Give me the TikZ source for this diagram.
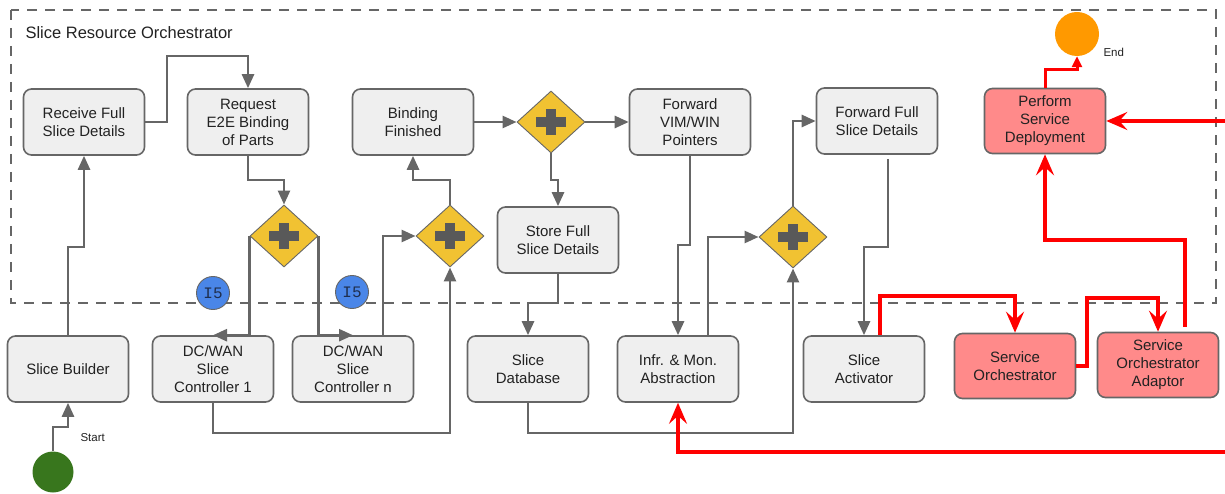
\documentclass[tikz,border=0pt]{standalone}
\usepackage{fontspec}
\setmainfont{Liberation Sans}
\newfontfamily\ifacefont{Liberation Mono}
\usetikzlibrary{shapes.geometric,arrows.meta,calc}

\definecolor{edge}{HTML}{666666}
\definecolor{boxgray}{HTML}{EFEFEF}
\definecolor{boxred}{HTML}{FF8A8A}
\definecolor{gate}{HTML}{F1C232}
\definecolor{plusgray}{HTML}{595959}
\definecolor{ifblue}{HTML}{4A86E8}
\definecolor{iftext}{HTML}{1F2F4F}
\definecolor{startgreen}{HTML}{38761D}
\definecolor{endorange}{HTML}{FF9900}
\definecolor{txt}{HTML}{222222}
\definecolor{flowred}{HTML}{FF0000}

\begin{document}
\begin{tikzpicture}[x=1pt,y=-1pt,
  task/.style={draw=edge, line width=1.6pt, fill=boxgray, rounded corners=8pt,
    minimum width=121pt, minimum height=66pt, inner sep=0pt, align=center,
    text=txt, font=\fontsize{15}{18}\selectfont},
  redtask/.style={task, fill=boxred, minimum height=65pt},
  gateway/.style={diamond, draw=edge, line width=0.9pt, fill=gate,
    minimum width=68pt, minimum height=62pt, inner sep=0pt,
    path picture={
      \fill[plusgray] ($(path picture bounding box.center)+(-15,-5)$) rectangle ++(30,10);
      \fill[plusgray] ($(path picture bounding box.center)+(-5,-13)$) rectangle ++(10,26);
    }},
  iface/.style={circle, draw=edge, line width=0.9pt, fill=ifblue,
    minimum size=33pt, inner sep=0pt, text=iftext,
    font=\ifacefont\fontsize{16}{16}\selectfont},
  event/.style={circle, inner sep=0pt},
  lbl/.style={anchor=west, text=txt, font=\fontsize{11.5}{12}\selectfont},
  flow/.style={draw=edge, line width=2.6pt, -{Triangle[length=14pt,width=12pt]}},
  rflow/.style={draw=flowred, line width=3.8pt, -{Stealth[length=21pt,width=18pt,inset=8pt]}},
  rsmall/.style={draw=flowred, line width=3pt, -{Triangle[length=11pt,width=10pt]}}
]
\useasboundingbox (0,0) rectangle (1225,494);

% orchestrator boundary
\draw[edge, line width=2.6pt, dash pattern=on 10pt off 8pt] (11,10) rectangle (1216,303);
\node[anchor=west, text=txt, font=\fontsize{16.5}{18}\selectfont] (title) at (22,33) {Slice Resource Orchestrator};

% tasks inside the orchestrator
\node[task] (rcv)   at (84,122)  {Receive Full\\Slice Details};
\node[task] (req)   at (248,122) {Request\\E2E Binding\\of Parts};
\node[task] (bind)  at (413,122) {Binding\\Finished};
\node[task] (fvim)  at (690,122) {Forward\\VIM/WIN\\Pointers};
\node[task] (ffull) at (877,121) {Forward Full\\Slice Details};
\node[redtask] (perf) at (1045,121) {Perform\\Service\\Deployment};
\node[task] (store) at (558,240) {Store Full\\Slice Details};

% parallel gateways
\node[gateway] (g1) at (284,236) {};
\node[gateway] (g2) at (450,236) {};
\node[gateway] (g3) at (551,122) {};
\node[gateway] (g4) at (793,237) {};

% external components
\node[task] (sb)    at (68,369)  {Slice Builder};
\node[task] (dc1)   at (213,369) {DC/WAN\\Slice\\Controller 1};
\node[task] (dcn)   at (353,369) {DC/WAN\\Slice\\Controller n};
\node[task] (db)    at (528,369) {Slice\\Database};
\node[task] (infr)  at (678,369) {Infr. \& Mon.\\Abstraction};
\node[task] (act)   at (864,369) {Slice\\Activator};
\node[redtask] (so)  at (1015,366) {Service\\Orchestrator};
\node[redtask] (soa) at (1158,365) {Service\\Orchestrator\\Adaptor};

% interface markers
\node[iface] (i5a) at (213,293) {I5};
\node[iface] (i5b) at (352,292) {I5};

% start / end events
\node[event, fill=startgreen, minimum size=41pt] (start) at (53,472) {};
\node[lbl] (startlbl) at (77,438) {Start};
\node[event, fill=endorange, minimum size=44pt] (endc) at (1077,34) {};
\node[lbl] (endlbl) at (1100,52) {End};

% incoming feeds from the right
\coordinate (inA) at (1225,121);
\coordinate (inB) at (1225,452);

% gray flow
\draw[flow] (start.north) -- (53,427) -| (sb.south);
\draw[flow] (sb.north) -- (68,247) -| (rcv.south);
\draw[flow] (rcv.east) -| (167,56) -| (req.north);
\draw[flow] (req.south) |- (284,180) -- (g1.north);
\draw[flow] (g1.west) |- (dc1.north);
\draw[flow] (g1.east) |- (dcn.north);
\draw[flow] ($(dcn.north)+(30,0)$) |- (g2.west);
\draw[flow] (dc1.south) -- (213,433) -| (g2.south);
\draw[flow] (g2.north) -- (450,180) -| (bind.south);
\draw[flow] (bind.east) -- (g3.west);
\draw[flow] (g3.east) -- (fvim.west);
\draw[flow] (g3.south) -- (551,180) -| (store.north);
\draw[flow] (store.south) -- (558,303) -| (db.north);
\draw[flow] (fvim.south) -- (690,245) -| (infr.north);
\draw[flow] ($(infr.north)+(30,0)$) |- (g4.west);
\draw[flow] (db.south) -- (528,433) -| (g4.south);
\draw[flow] (g4.north) |- (ffull.west);
\draw[flow] ($(ffull.south)+(11,4)$) -- (888,247) -| (act.north);

% red flow
\draw[rflow] ($(act.north)+(16,0)$) -- (880,296) -| (so.north);
\draw[rflow] (so.east) -| (1087,298) -| (soa.north);
\draw[rflow] ($(soa.north)+(27,-5)$) -- (1185,240) -| (perf.south);
\draw[rflow] (inA) -- (perf.east);
\draw[rsmall] (perf.north) -- (1045,70) -| (endc.south);
\draw[rflow] (inB) -| (infr.south);
\end{tikzpicture}
\end{document}
